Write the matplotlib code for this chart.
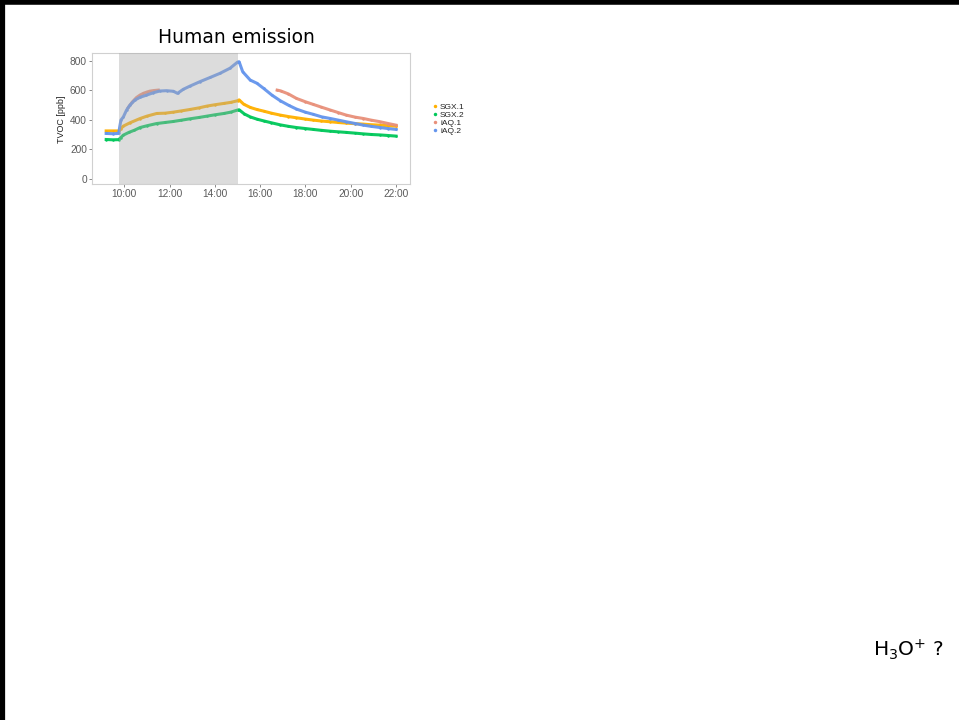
import numpy as np
import matplotlib
matplotlib.use("Agg")
import matplotlib.pyplot as plt
from matplotlib.lines import Line2D

# -----------------------------------------------------------------------------
# Data (time in decimal hours, TVOC in ppb)
# -----------------------------------------------------------------------------
sgx1_t = [9.2, 9.5, 9.75, 9.85, 9.95, 10.25, 10.7, 11.0, 11.43, 11.8,
          12.17, 12.5, 12.9, 13.3, 13.65, 14.0, 14.4, 14.7, 15.0, 15.07,
          15.27, 15.56, 15.85, 16.15, 16.5, 16.89, 17.25, 17.6, 18.0, 18.35,
          18.7, 19.1, 19.45, 19.8, 20.2, 20.56, 20.9, 21.3, 21.65, 22.0]
sgx1_v = [325, 325, 325, 340, 357, 380, 409, 425, 443, 445,
          452, 460, 470, 481, 493, 502, 511, 518, 529, 535,
          506, 484, 470, 459, 445, 432, 422, 414, 405, 398,
          392, 387, 382, 378, 374, 371, 367, 364, 360, 357]

sgx2_t = [9.2, 9.5, 9.75, 9.85, 9.95, 10.2, 10.45, 10.7, 11.0, 11.43,
          11.8, 12.17, 12.5, 12.9, 13.3, 13.65, 14.0, 14.4, 14.7, 15.0,
          15.07, 15.3, 15.56, 15.85, 16.15, 16.5, 16.89, 17.25, 17.6, 18.0,
          18.35, 18.7, 19.1, 19.45, 19.8, 20.2, 20.56, 20.9, 21.3, 21.65, 22.0]
sgx2_v = [267, 265, 266, 280, 296, 315, 330, 348, 360, 375,
          382, 389, 397, 407, 416, 425, 434, 443, 452, 466,
          468, 440, 420, 405, 393, 380, 366, 356, 348, 341,
          335, 329, 323, 319, 315, 310, 305, 301, 298, 294, 290]

# iAQ.1 has a data gap between the two segments (nan breaks the line)
iaq1_t = [10.18, 10.35, 10.54, 10.7, 10.84, 11.0, 11.13, 11.3, 11.5, np.nan,
          16.75, 16.9, 17.25, 17.6, 18.0, 18.35, 18.7, 19.1, 19.45, 19.8,
          20.2, 20.56, 20.9, 21.3, 21.65, 22.0]
iaq1_v = [484, 520, 551, 568, 579, 588, 594, 598, 601, np.nan,
          601, 596, 575, 545, 522, 504, 486, 466, 449, 432,
          418, 409, 398, 387, 375, 364]

iaq2_t = [9.2, 9.5, 9.75, 9.85, 9.96, 10.1, 10.25, 10.47, 10.69, 10.98,
          11.28, 11.57, 11.87, 12.17, 12.35, 12.6, 12.9, 13.34, 13.8, 14.22,
          14.67, 15.0, 15.07, 15.23, 15.56, 15.86, 16.15, 16.52, 16.89, 17.26,
          17.6, 17.99, 18.35, 18.72, 19.1, 19.45, 19.8, 20.2, 20.56, 20.9,
          21.3, 21.65, 22.0]
iaq2_v = [308, 306, 308, 398, 420, 466, 500, 534, 552, 567,
          583, 595, 597, 593, 579, 606, 628, 658, 687, 714,
          749, 790, 793, 725, 669, 647, 613, 567, 529, 498,
          473, 452, 437, 420, 409, 398, 387, 375, 364, 356,
          348, 341, 335]

series_names = ["SGX.1", "SGX.2", "iAQ.1", "iAQ.2"]
series_colors = ["#FFB000", "#00C85A", "#E8907A", "#6495ED"]

emission_window = (9.75, 15.0)   # shaded period with people in the room
xtick_hours = [10, 12, 14, 16, 18, 20, 22]
xtick_labels = ["10:00", "12:00", "14:00", "16:00", "18:00", "20:00", "22:00"]
ytick_vals = [0, 200, 400, 600, 800]

# -----------------------------------------------------------------------------
# Figure (slide-like canvas)
# -----------------------------------------------------------------------------
fig = plt.figure(figsize=(9.59, 7.2), dpi=100)
fig.patch.set_facecolor("white")

# slide border (left + top only)
fig.add_artist(Line2D([0.0025, 0.0025], [0, 1], color="black", lw=4.5,
                      transform=fig.transFigure))
fig.add_artist(Line2D([0, 1], [0.9975, 0.9975], color="black", lw=4.0,
                      transform=fig.transFigure))

ax = fig.add_axes([0.0956, 0.744, 0.332, 0.182])

data = [(sgx1_t, sgx1_v), (sgx2_t, sgx2_v), (iaq1_t, iaq1_v), (iaq2_t, iaq2_v)]
for (t, v), name, col in zip(data, series_names, series_colors):
    ax.plot(np.array(t, dtype=float), np.array(v, dtype=float), color=col,
            lw=2.2, marker="o", ms=1.8, mew=0, alpha=0.95, zorder=2, label=name)

# grey shading sits over the points, so they look muted inside it
ax.axvspan(*emission_window, color="#A9A9A9", alpha=0.4, lw=0, zorder=3)

tick_font = "Liberation Sans"
ax.set_xlim(8.56, 22.62)
ax.set_ylim(-36, 850)
ax.set_xticks(xtick_hours)
ax.set_xticklabels(xtick_labels, family=tick_font)
ax.set_yticks(ytick_vals)
ax.set_yticklabels([str(v) for v in ytick_vals], family=tick_font)
ax.tick_params(labelsize=7.3, colors="#5A5A5A", length=2, width=0.5, pad=1.5)
for s in ax.spines.values():
    s.set_color("#D0D0D0")
    s.set_linewidth(0.8)
ax.set_ylabel("TVOC [ppb]", fontsize=6.5, color="#222222", labelpad=3,
              family=tick_font)

handles = [Line2D([], [], ls="none", marker="o", ms=2.5, mew=0, color=c)
           for c in series_colors]
fig.legend(handles, series_names, loc="upper left",
           bbox_to_anchor=(0.445, 0.862), frameon=False,
           prop={"family": tick_font, "size": 6},
           handletextpad=0.1, handlelength=1.0, labelspacing=0.02,
           borderpad=0, labelcolor="#222222")

fig.text(0.247, 0.948, "Human emission", fontsize=13.5, ha="center",
         va="center", color="black")
fig.text(0.947, 0.098, r"H$_3$O$^{+}$ ?", fontsize=14.5, ha="center",
         va="center", color="black")

fig.savefig("out.png", dpi=100, facecolor="white")
